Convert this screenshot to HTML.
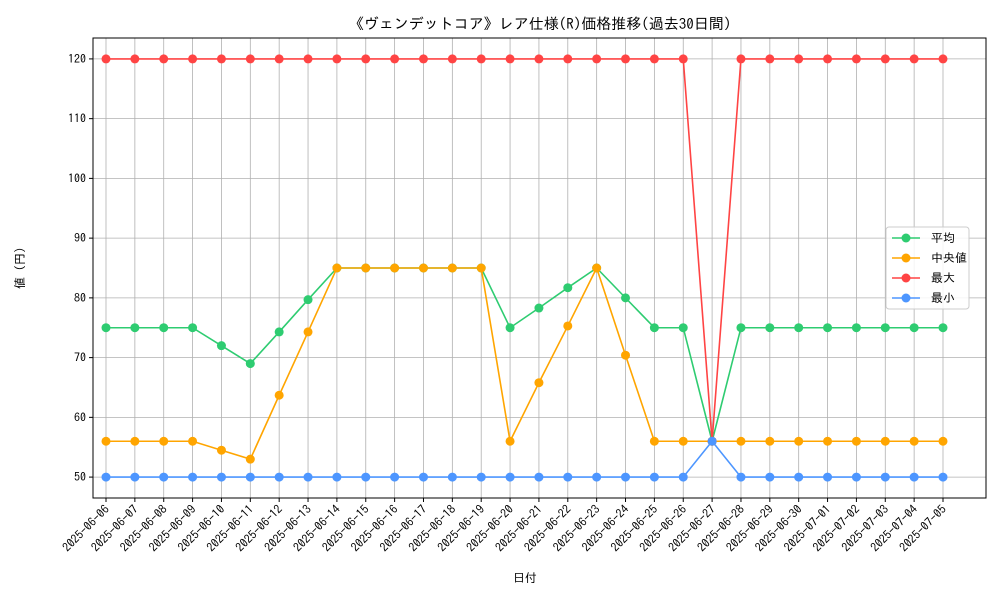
<!DOCTYPE html>
<html><head><meta charset="utf-8">
<style>
html,body{margin:0;padding:0;background:#fff;}
svg{display:block;font-family:"IPAGothic","Noto Sans CJK JP",sans-serif;}
</style></head>
<body>
<svg id="chart" width="1000" height="600" viewBox="0 0 1000 600">
<rect x="0" y="0" width="1000" height="600" fill="#fff"/>
<text x="540" y="29" text-anchor="middle" font-size="15" fill="#000">《ヴェンデットコア》レア仕様(R)価格推移(過去30日間)</text>
<g id="grid"></g>
<g id="yticks"></g>
<g id="xticks"></g>
<g id="series"></g>
<rect x="93" y="38" width="893" height="460" fill="none" stroke="#000" stroke-width="1"/>
<text x="525" y="582" text-anchor="middle" font-size="12">日付</text>
<text transform="translate(24,268) rotate(-90)" text-anchor="middle" font-size="12">値 (円)</text>
<g id="legend"></g>
</svg>
<script>
const categories = ["2025-06-06","2025-06-07","2025-06-08","2025-06-09","2025-06-10","2025-06-11","2025-06-12","2025-06-13","2025-06-14","2025-06-15","2025-06-16","2025-06-17","2025-06-18","2025-06-19","2025-06-20","2025-06-21","2025-06-22","2025-06-23","2025-06-24","2025-06-25","2025-06-26","2025-06-27","2025-06-28","2025-06-29","2025-06-30","2025-07-01","2025-07-02","2025-07-03","2025-07-04","2025-07-05"];
const meanValues = [75,75,75,75,72,69,74.3,79.7,85,85,85,85,85,85,75,78.3,81.7,85,80,75,75,56,75,75,75,75,75,75,75,75];
const medianValues = [56,56,56,56,54.5,53,63.7,74.3,85,85,85,85,85,85,56,65.8,75.3,85,70.4,56,56,56,56,56,56,56,56,56,56,56];
const maxValues = [120,120,120,120,120,120,120,120,120,120,120,120,120,120,120,120,120,120,120,120,120,56,120,120,120,120,120,120,120,120];
const minValues = [50,50,50,50,50,50,50,50,50,50,50,50,50,50,50,50,50,50,50,50,50,56,50,50,50,50,50,50,50,50];
const yTicks = [50,60,70,80,90,100,110,120];
const seriesNames = ["平均","中央値","最大","最小"];

const NS="http://www.w3.org/2000/svg";
const L=93,R=986,T=38,B=498;
const yMin=46.5,yMax=123.5;
const xStep=(943-106)/29;
const xMin=-(106-L)/xStep,xMax=29+(R-943)/xStep;
const xs=i=>L+(i-xMin)/(xMax-xMin)*(R-L);
const ys=v=>B-(v-yMin)/(yMax-yMin)*(B-T);
function mk(tag,attrs,parent){const e=document.createElementNS(NS,tag);for(const k in attrs)e.setAttribute(k,attrs[k]);parent.appendChild(e);return e;}

const grid=document.getElementById('grid'),yg=document.getElementById('yticks'),xg=document.getElementById('xticks');
yTicks.forEach(v=>{
  const y=ys(v);
  const gl=mk('line',{x1:L,x2:R,y1:y,y2:y,stroke:'#b0b0b0','stroke-width':0.8},grid);
  
  
  const tk=mk('line',{x1:L-4,x2:L,y1:y,y2:y,stroke:'#000'},yg);
  
  
  const t=mk('text',{x:L-7,y:y+4,'text-anchor':'end','font-size':12},yg);
  t.textContent=v;
  
  
});
categories.forEach((c,i)=>{
  const x=xs(i);
  const gl=mk('line',{x1:x,x2:x,y1:T,y2:B,stroke:'#b0b0b0','stroke-width':0.8},grid);
  
  
  const tk=mk('line',{x1:x,x2:x,y1:B,y2:B+4,stroke:'#000'},xg);
  
  
  const t=mk('text',{x:x+4,y:B+12,'text-anchor':'end','font-size':12,transform:`rotate(-45 ${x+4} ${B+12})`},xg);
  t.textContent=c;
  
  
});
const sg=document.getElementById('series');
const data=[meanValues,medianValues,maxValues,minValues];
const colors=['#2ecc71','#ffa500','#ff4444','#4d96ff'];
const snames=['mean','median','max','min'];
data.forEach((arr,si)=>{
  const g=mk('g',{},sg);
  
  
  const p=mk('polyline',{points:arr.map((v,i)=>xs(i)+','+ys(v)).join(' '),fill:'none',stroke:colors[si],'stroke-width':1.6},g);
  
  
  arr.forEach((v,i)=>{
    const c=mk('circle',{cx:xs(i),cy:ys(v),r:4.5,fill:colors[si]},g);
    
    
  });
});
const lg=document.getElementById('legend');
const box=mk('rect',{x:886,y:227,width:83,height:82,rx:3,fill:'#fff','fill-opacity':0.85,stroke:'#ccc'},lg);


seriesNames.forEach((n,i)=>{
  const y=238+i*20;
  const g=mk('g',{},lg);
  
  
  mk('line',{x1:892,x2:920,y1:y,y2:y,stroke:colors[i],'stroke-width':1.6},g);
  mk('circle',{cx:906,cy:y,r:4.5,fill:colors[i]},g);
  const t=mk('text',{x:931,y:y+4,'font-size':12},g);
  t.textContent=n;
});
</script>
</body></html>
